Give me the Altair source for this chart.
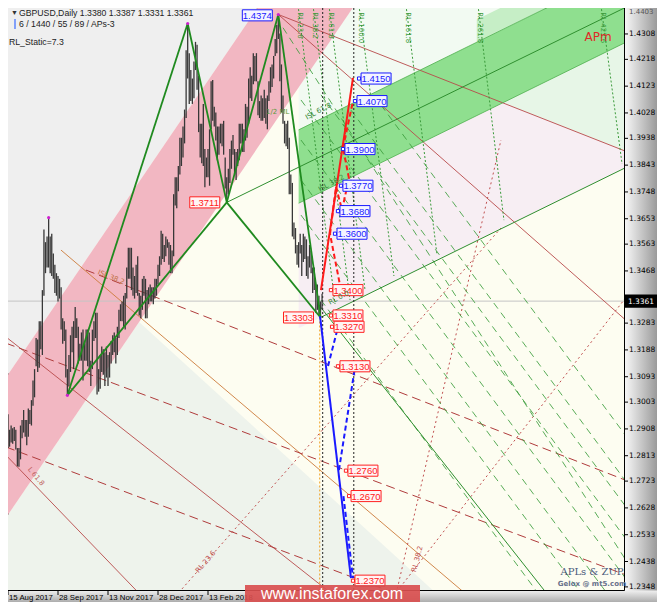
import altair as alt
import pandas as pd

# ---------------- data ----------------
# daily GBPUSD bars, bar index 0 = 15 Aug 2017
highs = [1.2960, 1.2905, 1.2920, 1.2910, 1.2915, 1.2905, 1.2840, 1.2840, 1.2920, 1.2940,
         1.2975, 1.2940, 1.2940, 1.2980, 1.2975, 1.3010, 1.3080, 1.3120, 1.3230, 1.3225,
         1.3290, 1.3290, 1.3400, 1.3615, 1.3570, 1.3590, 1.3657, 1.3590, 1.3600, 1.3530,
         1.3490, 1.3460, 1.3450, 1.3440, 1.3410, 1.3300, 1.3290, 1.3260, 1.3120, 1.3170,
         1.3240, 1.3270, 1.3290, 1.3340, 1.3300, 1.3270, 1.3210, 1.3250, 1.3260, 1.3210,
         1.3260, 1.3260, 1.3250, 1.3150, 1.3260, 1.3290, 1.3320, 1.3320, 1.3120, 1.3170,
         1.3200, 1.3190, 1.3180, 1.3200, 1.3170, 1.3180, 1.3220, 1.3240, 1.3250, 1.3230,
         1.3270, 1.3330, 1.3350, 1.3360, 1.3380, 1.3390, 1.3480, 1.3550, 1.3550, 1.3550,
         1.3480, 1.3450, 1.3490, 1.3520, 1.3390, 1.3380, 1.3440, 1.3450, 1.3440, 1.3400,
         1.3410, 1.3420, 1.3410, 1.3410, 1.3440, 1.3440, 1.3490, 1.3520, 1.3610, 1.3600,
         1.3560, 1.3590, 1.3580, 1.3570, 1.3560, 1.3540, 1.3740, 1.3800, 1.3800, 1.3840,
         1.3940, 1.3940, 1.3980, 1.4040, 1.4250, 1.4345, 1.4240, 1.4180, 1.4150, 1.4210,
         1.4280, 1.4270, 1.4160, 1.3990, 1.3990, 1.4060, 1.3900, 1.3870, 1.3900, 1.3970,
         1.4140, 1.4145, 1.4050, 1.4030, 1.3980, 1.3980, 1.3990, 1.3990, 1.4000, 1.3870,
         1.3800, 1.3830, 1.3900, 1.3930, 1.3950, 1.3900, 1.3890, 1.3900, 1.3990, 1.3990,
         1.3990, 1.3970, 1.4060, 1.4050, 1.4150, 1.4190, 1.4160, 1.4240, 1.4230, 1.4240,
         1.4140, 1.4070, 1.4090, 1.4080, 1.4110, 1.4080, 1.4090, 1.4140, 1.4190, 1.4200,
         1.4230, 1.4290, 1.4340, 1.4377, 1.4310, 1.4200, 1.4090, 1.4000, 1.3990, 1.4000,
         1.3940, 1.3810, 1.3780, 1.3640, 1.3620, 1.3560, 1.3570, 1.3600, 1.3560, 1.3600,
         1.3590, 1.3580, 1.3520, 1.3560, 1.3540, 1.3480, 1.3480, 1.3420, 1.3420, 1.3380,
         1.3360, 1.3387]
lows = [1.2840, 1.2845, 1.2860, 1.2855, 1.2865, 1.2835, 1.2775, 1.2774, 1.2800, 1.2875,
        1.2895, 1.2880, 1.2850, 1.2880, 1.2925, 1.2920, 1.2990, 1.3020, 1.3130, 1.3110,
        1.3125, 1.3190, 1.3170, 1.3380, 1.3460, 1.3480, 1.3480, 1.3460, 1.3450, 1.3440,
        1.3390, 1.3380, 1.3360, 1.3370, 1.3260, 1.3210, 1.3220, 1.3090, 1.3027, 1.3060,
        1.3110, 1.3180, 1.3120, 1.3230, 1.3230, 1.3140, 1.3150, 1.3150, 1.3080, 1.3150,
        1.3150, 1.3130, 1.3110, 1.3060, 1.3120, 1.3220, 1.3230, 1.3030, 1.3040, 1.3050,
        1.3110, 1.3100, 1.3060, 1.3090, 1.3060, 1.3090, 1.3140, 1.3170, 1.3180, 1.3140,
        1.3170, 1.3230, 1.3290, 1.3290, 1.3270, 1.3260, 1.3370, 1.3440, 1.3440, 1.3400,
        1.3380, 1.3370, 1.3390, 1.3380, 1.3310, 1.3300, 1.3330, 1.3380, 1.3300, 1.3300,
        1.3350, 1.3360, 1.3360, 1.3350, 1.3370, 1.3380, 1.3420, 1.3450, 1.3490, 1.3510,
        1.3500, 1.3520, 1.3550, 1.3490, 1.3460, 1.3460, 1.3520, 1.3700, 1.3690, 1.3750,
        1.3810, 1.3840, 1.3870, 1.3920, 1.4010, 1.4150, 1.4060, 1.4070, 1.4060, 1.4080,
        1.4180, 1.4110, 1.3960, 1.3870, 1.3850, 1.3840, 1.3765, 1.3800, 1.3800, 1.3770,
        1.3970, 1.4000, 1.3980, 1.3930, 1.3860, 1.3880, 1.3920, 1.3910, 1.3880, 1.3760,
        1.3711, 1.3740, 1.3780, 1.3830, 1.3880, 1.3810, 1.3790, 1.3840, 1.3860, 1.3920,
        1.3890, 1.3890, 1.3930, 1.3940, 1.3990, 1.4080, 1.4070, 1.4130, 1.4140, 1.4140,
        1.4020, 1.4010, 1.4000, 1.4000, 1.4010, 1.3990, 1.3970, 1.4070, 1.4100, 1.4120,
        1.4150, 1.4230, 1.4240, 1.4290, 1.4140, 1.4030, 1.3990, 1.3920, 1.3910, 1.3900,
        1.3740, 1.3740, 1.3590, 1.3580, 1.3530, 1.3490, 1.3480, 1.3530, 1.3450, 1.3500,
        1.3510, 1.3450, 1.3440, 1.3480, 1.3460, 1.3390, 1.3400, 1.3320, 1.3330, 1.3310,
        1.3303, 1.3331]

x_tick_bars = [0, 32, 64, 96, 128]
x_tick_text = ["15 Aug 2017", "28 Sep 2017", "13 Nov 2017", "28 Dec 2017", "13 Feb 2018"]
y_ticks = [1.4308, 1.4218, 1.4123, 1.4028, 1.3938, 1.3843, 1.3748, 1.3653, 1.3563, 1.3468,
           1.3283, 1.3188, 1.3093, 1.3003, 1.2908, 1.2813, 1.2723, 1.2628, 1.2533, 1.2438, 1.2348]
last_price = 1.3361

# ZUP pivots (bar, price)
pivot_bar = [26, 38, 115, 140, 173, 200]
pivot_price = [1.3657, 1.3027, 1.4345, 1.3711, 1.4377, 1.3303]
zigzag_segments = [(38, 1.3027, 115, 1.4345), (115, 1.4345, 140, 1.3711), (140, 1.3711, 173, 1.4377),
                   (173, 1.4377, 200, 1.3303), (38, 1.3027, 140, 1.3711), (140, 1.3711, 200, 1.3303)]

# shaded zones: (bar list, lower price list, upper price list)
gray_zone = ([-5, 240], [1.3060, 1.5055], [1.56, 1.56])
pink_zone = ([-5, 240], [1.2563, 1.4558], [1.3060, 1.5055])
mint_zone = ([-5, 83.9, 300], [1.20, 1.20, 1.20], [1.2563, 1.3287, 1.2194])
topright_zone = ([186, 400], [1.3968, 1.4551], [1.47, 1.47])
band_zone = ([186, 400], [1.3708, 1.4291], [1.3968, 1.4551])
band_top_zone = ([300, 400], [1.4279, 1.4551], [1.4359, 1.4631])
lav_zone = ([186, 400], [1.3265, 1.3847], [1.3708, 1.4291])
mint_tri_zone = ([316.7, 400], [1.4064, 1.3882], [1.4064, 1.4291])

# analysis lines (bar1, price1, bar2, price2)
red_thin = [(173, 1.4377, 400, 1.3882), (173, 1.4377, 400, 1.3271),
            (-1.3, 1.3234, 206.7, 1.2326), (-1.3, 1.2815, 90, 1.2290)]
orange_thin = [(33.9, 1.3542, 300, 1.2290)]
red_dashed = [(49.9, 1.3471, 400, 1.2716), (-1.3, 1.3212, 400, 1.2381), (-1.3, 1.2844, 260, 1.2300)]
red_dotted = [(247, 1.2290, 315.5, 1.3932), (247, 1.2318, 400, 1.3406), (105, 1.2301, 315.5, 1.3620)]
green_dotted = [(185.6, 1.441, 209.3, 1.3351), (195.2, 1.441, 218.9, 1.3365), (205.4, 1.441, 228.5, 1.3400),
                (224.6, 1.441, 247.0, 1.3450), (254.7, 1.441, 274.6, 1.3524), (300.8, 1.441, 317.4, 1.3648),
                (379.5, 1.441, 393.0, 1.3847)]
green_dashed = [(187.5, 1.3932, 419.1, 1.22), (187.5, 1.4074, 438.0, 1.22), (200.3, 1.4092, 453.2, 1.22),
                (187.5, 1.3790, 400.1, 1.22), (187.5, 1.3666, 383.5, 1.22), (200.3, 1.3365, 356.0, 1.22),
                (219.5, 1.4038, 465.2, 1.22), (238.7, 1.4056, 486.8, 1.22), (176, 1.4330, 423.7, 1.22)]
green_thin = [(140, 1.3711, 400, 1.4415), (200, 1.3303, 400, 1.3847), (199, 1.3347, 360, 1.2218)]
band_edges = [(186, 1.3968, 400, 1.4551), (186, 1.3708, 400, 1.4291)]
black_vlines = [201.4, 221.3]
orange_vline = [(199.5, 1.3303, 199.5, 1.20)]

# target projections
red_solid = [(200.3, 1.3400, 220.8, 1.4152)]
red_dash_path = [(213.1, 1.3400), (206.1, 1.3599), (209.9, 1.3766), (213.8, 1.3684),
                 (218.2, 1.3797), (214.4, 1.3904), (220.8, 1.4070)]
blue_solid = [(199.7, 1.3308, 219.5, 1.2379)]
blue_dashed = [(204.8, 1.3131, 211.2, 1.3269), (211.8, 1.2762, 222.0, 1.3124), (214.7, 1.2670, 220.8, 1.2379)]

up_levels = [1.4150, 1.4070, 1.3900, 1.3770, 1.3680, 1.3600]
up_bars = [223.4, 220.8, 213.1, 211.8, 209.9, 208.0]
dn_levels = [1.3400, 1.3310, 1.3270, 1.3130, 1.2760, 1.2670, 1.2370]
dn_bars = [205.4, 205.4, 206.1, 209.9, 215.0, 217.0, 219.5]

# small line captions: (text, bar, price, angle, color)
captions = [("ISL 38.2", 57.6, 1.3464, 22, "#c07040"), ("L 61.8", 13.4, 1.2769, 50, "#c06060"),
            ("RL 23.6", 121, 1.2401, 311, "#c05050"), ("RL 38.2", 259.8, 1.2401, 285, "#c05050"),
            ("1/2 ML", 165.1, 1.4031, 0, "#5a9a3a"), ("ISL 61.8", 190.7, 1.4010, 332, "#3a8a3a"),
            ("ISL 38.2", 199, 1.3755, 332, "#3a8a3a"), ("RL 0.0", 205.4, 1.3354, 332, "#3a8a3a"),
            ("RL 23.6", 186.6, 1.4385, 90, "#3a9a3a"), ("RL 38.2", 196.2, 1.4385, 90, "#3a9a3a"),
            ("RL 61.8", 206.4, 1.4385, 90, "#3a9a3a"), ("RL 100.0", 225.6, 1.4385, 90, "#3a9a3a"),
            ("RL 161.8", 255.7, 1.4385, 90, "#3a9a3a"), ("RL 261.8", 301.8, 1.4385, 90, "#3a9a3a"),
            ("RL 423.6", 380.5, 1.4385, 90, "#3a9a3a")]

# ---------------- chart ----------------
xs = alt.Scale(domain=[0, 394.24], nice=False, zero=False)
ys = alt.Scale(domain=[1.2337, 1.4400], nice=False, zero=False)
BOX = "M-1,-0.37L1,-0.37L1,0.37L-1,0.37Z"
one = pd.DataFrame({"a": [0]})


def X(f):
    return alt.X(f"{f}:Q", scale=xs, axis=None)


def Y(f):
    return alt.Y(f"{f}:Q", scale=ys, axis=None)


def zone(z, color, opacity=1.0):
    df = pd.DataFrame({"x": z[0], "lo": z[1], "hi": z[2]})
    return alt.Chart(df).mark_area(color=color, opacity=opacity, clip=True).encode(
        x=X("x"), y=Y("lo"), y2="hi:Q")


def segs(rows, color, width=1.0, dash=None, opacity=1.0):
    df = pd.DataFrame(rows, columns=["x", "y", "x2", "y2"])
    kw = dict(color=color, strokeWidth=width, opacity=opacity, clip=True)
    if dash:
        kw["strokeDash"] = dash
    return alt.Chart(df).mark_rule(**kw).encode(x=X("x"), y=Y("y"), x2="x2:Q", y2="y2:Q")


def path_to_segs(pts):
    return [(pts[k][0], pts[k][1], pts[k + 1][0], pts[k + 1][1]) for k in range(len(pts) - 1)]


layers = []
# zones
layers += [zone(gray_zone, "#efefef"), zone(mint_zone, "#eef3ec"), zone(topright_zone, "#f2faf2"),
           zone(lav_zone, "#f7eef3"), zone(mint_tri_zone, "#e7f6e7"), zone(pink_zone, "#f2b7c2"),
           zone(band_zone, "#8fdf8f"), zone(band_top_zone, "#c6eec6")]

# current price line
layers.append(alt.Chart(pd.DataFrame({"p": [last_price]})).mark_rule(color="#c4c4c4", strokeWidth=1, clip=True)
              .encode(y=Y("p")))

# analysis lines
layers += [segs(red_thin, "#b84a4a", 0.9), segs(orange_thin, "#cc7a3a", 0.9),
           segs(red_dashed, "#b03c3c", 1, [9, 5]), segs(red_dotted, "#c05050", 1, [2, 3]),
           segs(green_dotted, "#3a9a3a", 1, [2, 2]), segs(green_dashed, "#3c9e3c", 1, [7, 5], 0.85),
           segs(green_thin, "#2f8f2f", 1), segs(band_edges, "#4caf4c", 0.8),
           segs(orange_vline, "#f0a020", 1, [2, 2])]
layers.append(alt.Chart(pd.DataFrame({"b": black_vlines})).mark_rule(color="#222222", strokeDash=[2, 2],
              strokeWidth=1, clip=True).encode(x=X("b")))

# price bars
bars = pd.DataFrame({"bar": list(range(len(highs))), "high": highs, "low": lows})
layers.append(alt.Chart(bars).mark_rule(color="#383838", strokeWidth=1.3, clip=True).encode(
    x=X("bar"), y=Y("low"), y2="high:Q"))

# zigzag
layers.append(segs(zigzag_segments, "#1f8a1f", 1.8))
layers.append(alt.Chart(pd.DataFrame({"b": pivot_bar[:3] + [pivot_bar[4]], "p": pivot_price[:3] + [pivot_price[4]]}))
              .mark_point(shape="circle", size=10, filled=True, color="#d020d0", opacity=1)
              .encode(x=X("b"), y=Y("p")))

# projections
layers += [segs(red_solid, "#ff1a1a", 2), segs(path_to_segs(red_dash_path), "#ff1a1a", 2, [5, 3]),
           segs(blue_solid, "#1a1aff", 2), segs(blue_dashed, "#1a1aff", 2, [5, 3])]


def boxes(levels, bars_, color, fill, offset):
    df = pd.DataFrame({"b": bars_, "p": levels, "t": [f"{v:.4f}" for v in levels]})
    base = alt.Chart(df)
    mk = base.mark_point(shape="square", size=10, filled=True, fill="#ffffff", stroke=color, strokeWidth=1,
                         opacity=1, xOffset=2, clip=True).encode(x=X("b"), y=Y("p"))
    bx = base.mark_point(shape=BOX, size=900, filled=True, fill=fill, stroke=color, strokeWidth=1,
                         opacity=1, xOffset=offset, clip=True).encode(x=X("b"), y=Y("p"))
    tx = base.mark_text(font="Liberation Sans", fontSize=9.5, color=color, xOffset=offset, dy=0.5,
                        clip=True).encode(x=X("b"), y=Y("p"), text="t:N")
    return [mk, bx, tx]


layers += boxes(up_levels, up_bars, "#1a1aff", "#f4f4ff", 19)
layers += boxes(dn_levels, dn_bars, "#ff2020", "#fff4f4", 19)
layers += boxes([1.4374], [173], "#1a1aff", "#f4f4ff", -21)[1:]
layers += boxes([1.3711, 1.3303], [140, 200], "#ff2020", "#fff4f4", -22)[1:]

# captions
cap = pd.DataFrame(captions, columns=["t", "b", "p", "a", "c"])
layers.append(alt.Chart(cap).mark_text(font="DejaVu Sans", fontSize=7, align="left", baseline="middle",
                                       clip=True).encode(
    x=X("b"), y=Y("p"), text="t:N", angle=alt.Angle("a:Q", scale=None), color=alt.Color("c:N", scale=None)))
layers.append(alt.Chart(pd.DataFrame({"b": [377.6], "p": [1.4297], "t": ["APm"]})).mark_text(
    font="DejaVu Sans", fontSize=12, color="#e02828", clip=True).encode(x=X("b"), y=Y("p"), text="t:N"))

# header texts
hdr = [("\u25bc", 3, 5, 7, "#333333"), ("GBPUSD,Daily  1.3380 1.3387 1.3331 1.3361", 11, 5, 8.7, "#222222"),
       ("6 / 1440 / 55 / 89 / APs-3", 11, 16, 8.7, "#222222"), ("RL_Static=7.3", 1, 34, 8.7, "#222222")]
for t, x0, y0, fs, c in hdr:
    layers.append(alt.Chart(one).mark_text(text=t, font="Liberation Sans", fontSize=fs, color=c, align="left",
                                           baseline="middle").encode(x=alt.value(x0), y=alt.value(y0)))
layers.append(alt.Chart(one).mark_rule(color="#3a6aff", strokeWidth=1.2).encode(
    x=alt.value(7), x2=alt.value(7), y=alt.value(11), y2=alt.value(21)))

# axis panels (outside the plot area)
layers.append(alt.Chart(one).mark_rect(color=alt.LinearGradient(
    gradient="linear", x1=0, x2=1, y1=0, y2=0,
    stops=[alt.GradientStop(color="#f8f8f8", offset=0), alt.GradientStop(color="#9a9a9a", offset=1)])
).encode(x=alt.value(616.5), x2=alt.value(649), y=alt.value(0), y2=alt.value(600)))
layers.append(alt.Chart(one).mark_rect(color=alt.LinearGradient(
    gradient="linear", x1=0, x2=0, y1=0, y2=1,
    stops=[alt.GradientStop(color="#f0f0f0", offset=0), alt.GradientStop(color="#8a8a8a", offset=1)])
).encode(x=alt.value(0), x2=alt.value(649), y=alt.value(582.5), y2=alt.value(600)))
layers.append(alt.Chart(one).mark_rule(color="#000000", strokeWidth=1).encode(
    x=alt.value(616.5), x2=alt.value(616.5), y=alt.value(0), y2=alt.value(582.5)))
layers.append(alt.Chart(one).mark_rule(color="#000000", strokeWidth=1).encode(
    x=alt.value(0), x2=alt.value(616.5), y=alt.value(582.5), y2=alt.value(582.5)))

# signature (inside the plot, drawn after the panels)
layers.append(alt.Chart(one).mark_text(text="APLs & ZUP", font="DejaVu Serif", fontSize=10, color="#4a5a7a")
              .encode(x=alt.value(584), y=alt.value(564)))
layers.append(alt.Chart(one).mark_text(text="Gelox @ mt5.com", font="DejaVu Sans", fontSize=7,
                                       fontWeight="bold", color="#66708a")
              .encode(x=alt.value(584), y=alt.value(576)))

# price axis (right): ticks and labels through the y scale
yt = pd.DataFrame({"p": y_ticks, "t": [f"{v:.4f}" for v in y_ticks]})
layers.append(alt.Chart(yt).mark_rule(color="#000000", strokeWidth=1).encode(
    x=alt.value(617), x2=alt.value(620), y=Y("p")))
layers.append(alt.Chart(yt).mark_text(font="DejaVu Sans", fontSize=7.5, color="#000000", align="left",
                                      baseline="middle").encode(x=alt.value(621), y=Y("p"), text="t:N"))

# date axis (bottom): ticks and labels through the x scale
xl = pd.DataFrame({"b": x_tick_bars, "t": x_tick_text})
layers.append(alt.Chart(xl).mark_rule(color="#000000", strokeWidth=1).encode(
    x=X("b"), y=alt.value(583), y2=alt.value(587)))
layers.append(alt.Chart(xl).mark_text(font="Liberation Sans", fontSize=7.8, color="#000000", align="left",
                                      baseline="middle", dx=1).encode(x=X("b"), y=alt.value(590), text="t:N"))

# watermark
layers.append(alt.Chart(one).mark_rect(color="#d94f4f", opacity=0.92).encode(
    x=alt.value(237), x2=alt.value(412), y=alt.value(577), y2=alt.value(600)))
layers.append(alt.Chart(one).mark_text(text="www.instaforex.com", font="Liberation Sans", fontSize=16,
                                       color="#ffffff").encode(x=alt.value(324), y=alt.value(586)))

# current price box on the axis
cp = pd.DataFrame({"p": [last_price], "t": [f"{last_price:.4f}"]})
layers.append(alt.Chart(cp).mark_point(shape=BOX, size=900, filled=True, fill="#000000", stroke="#000000",
                                       opacity=1).encode(x=alt.value(633), y=Y("p")))
layers.append(alt.Chart(cp).mark_text(font="DejaVu Sans", fontSize=7.5, color="#ffffff", dy=0.5).encode(
    x=alt.value(633), y=Y("p"), text="t:N"))
layers.append(alt.Chart(one).mark_text(text="1.4403", font="DejaVu Sans", fontSize=7, color="#555555",
                                       align="left", baseline="middle").encode(x=alt.value(621), y=alt.value(4)))

chart = alt.layer(*layers).properties(
    width=616, height=582,
    padding={"left": 0, "top": 0, "right": 33, "bottom": 12},
    autosize=alt.AutoSizeParams(type="none"),
    background="#d4d4d4",
).configure_view(fill="#fdfdf1", stroke="#000000", strokeWidth=1)

chart.save("out.html", embed_options={"renderer": "svg", "actions": False})
